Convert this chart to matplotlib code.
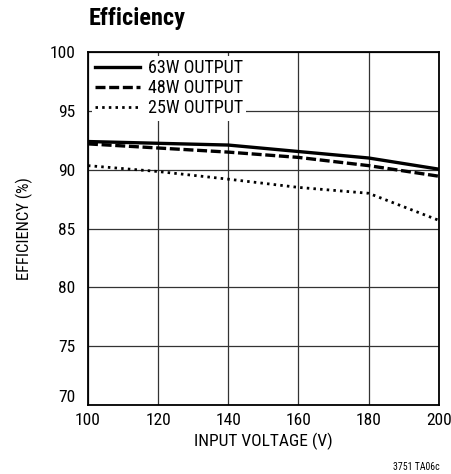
import matplotlib
matplotlib.use("Agg")
import matplotlib.pyplot as plt

plt.rcParams['font.family'] = ['Roboto Condensed', 'DejaVu Sans']

voltage = [100, 120, 140, 160, 180, 200]
eff_63w = [92.4, 92.25, 92.1, 91.55, 91.0, 90.05]
eff_48w = [92.2, 91.85, 91.5, 91.05, 90.35, 89.45]
eff_25w = [90.35, 89.85, 89.2, 88.5, 88.0, 85.7]
labels = ['63W OUTPUT', '48W OUTPUT', '25W OUTPUT']
xticks = [100, 120, 140, 160, 180, 200]
yticks = [70, 75, 80, 85, 90, 95, 100]

fig = plt.figure(figsize=(4.51, 4.74), dpi=100)
ax = fig.add_axes([0.195, 0.1456, 0.778, 0.7444])

ax.plot(voltage, eff_63w, color='black', lw=2.4, ls='-', label=labels[0])
ax.plot(voltage, eff_48w, color='black', lw=2.4, ls=(0, (3.0, 1.1)), label=labels[1])
ax.plot(voltage, eff_25w, color='black', lw=2.0, ls=(0, (0.9, 1.5)), label=labels[2])

ax.set_xlim(100, 200)
ax.set_ylim(70, 100)
ax.set_xticks(xticks)
ax.set_yticks(yticks)
ax.grid(True, color='#333333', lw=0.9)
ax.set_axisbelow(True)
ax.tick_params(axis='y', length=0, labelsize=12.5, pad=9)
ax.tick_params(axis='x', length=0, labelsize=12.5, pad=6)
ylabs = ax.get_yticklabels()
ylabs[0].set_va('bottom')
for s in ax.spines.values():
    s.set_linewidth(1.3)

ax.set_xlabel('INPUT VOLTAGE (V)', fontsize=12.5, labelpad=3)
ax.set_ylabel('EFFICIENCY (%)', fontsize=12, labelpad=12)

leg = ax.legend(loc='upper left', frameon=True, fontsize=13, handlelength=2.5,
                borderaxespad=0.2, labelspacing=0.1, handletextpad=0.4,
                borderpad=0.2, fancybox=False)
leg.get_frame().set_edgecolor('none')
leg.get_frame().set_facecolor('white')
leg.get_frame().set_alpha(1)

fig.text(0.197, 0.96, 'Efficiency', fontsize=17.5, fontweight='bold', ha='left', va='center')
fig.text(0.974, 0.015, '3751 TA06c', fontsize=7, ha='right', va='center')

fig.savefig('out.png', dpi=100)
